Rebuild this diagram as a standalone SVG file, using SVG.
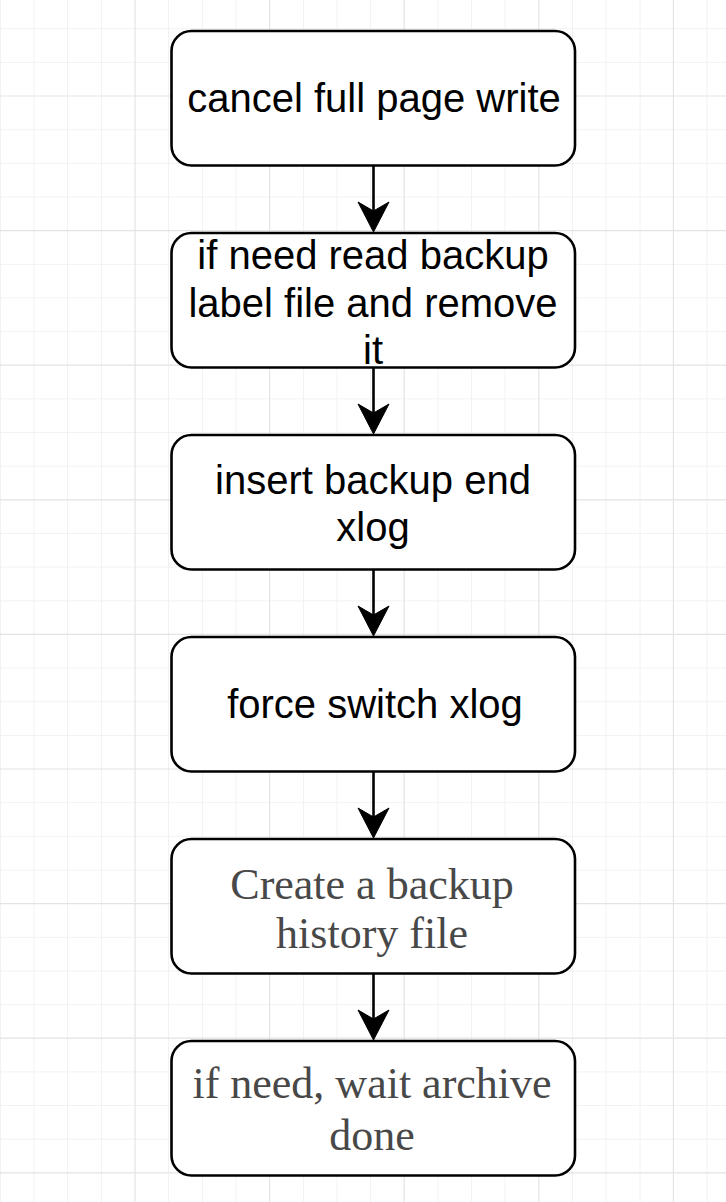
<svg xmlns="http://www.w3.org/2000/svg" width="726" height="1202" viewBox="0 0 726 1202">
<style>
.minor{stroke:#f2f2f2;stroke-width:1;fill:none}
.major{stroke:#e4e4e4;stroke-width:1.2;fill:none}
.box{fill:#ffffff;stroke:#000000;stroke-width:2.6}
.sans{font-family:"Liberation Sans",Arial,sans-serif;font-size:40px;fill:#000000;text-anchor:middle}
.serif{font-family:"Liberation Serif","Times New Roman",serif;font-size:44px;fill:#484848;text-anchor:middle}
.edge{stroke:#000000;stroke-width:2.6;fill:none}
.head{fill:#000000;stroke:#000000;stroke-width:1}
</style>
<rect width="726" height="1202" fill="#ffffff"/>
<g id="grid">
<path class="minor" d="M0.5 0V1202M34 0V1202M67.5 0V1202M101.5 0V1202M168.5 0V1202M202.5 0V1202M236 0V1202M303.5 0V1202M337 0V1202M370.5 0V1202M438 0V1202M471.5 0V1202M505 0V1202M572.5 0V1202M606 0V1202M640 0V1202M707 0V1202M0 28.7H726M0 62.4H726M0 129.7H726M0 163.3H726M0 197H726M0 264.3H726M0 297.9H726M0 331.6H726M0 398.9H726M0 432.5H726M0 466.2H726M0 533.5H726M0 567.1H726M0 600.8H726M0 668H726M0 701.7H726M0 735.4H726M0 802.7H726M0 836.3H726M0 870H726M0 937.3H726M0 970.9H726M0 1004.6H726M0 1071.9H726M0 1105.5H726M0 1139.2H726"/>
<path class="major" d="M135 0V1202M269.6 0V1202M404.2 0V1202M538.8 0V1202M673.4 0V1202M0 96H726M0 230.6H726M0 365.2H726M0 499.8H726M0 634.4H726M0 769H726M0 903.6H726M0 1038.2H726M0 1172.8H726"/>
</g>
<g id="connectors">
<path class="edge" d="M373.5 165.5V214"/>
<path class="head" d="M373.5 232L358 202L373.5 211L389 202Z"/>
<path class="edge" d="M373.5 367.5V416"/>
<path class="head" d="M373.5 434L358 404L373.5 413L389 404Z"/>
<path class="edge" d="M373.5 569.5V618"/>
<path class="head" d="M373.5 636L358 606L373.5 615L389 606Z"/>
<path class="edge" d="M373.5 771.5V820"/>
<path class="head" d="M373.5 838L358 808L373.5 817L389 808Z"/>
<path class="edge" d="M373.5 973.5V1022"/>
<path class="head" d="M373.5 1040L358 1010L373.5 1019L389 1010Z"/>
</g>
<g id="node1">
<rect class="box" x="171.5" y="31" width="403.5" height="134.5" rx="20" ry="20"/>
<text class="sans" x="374" y="112">cancel full page write</text>
</g>
<g id="node2">
<rect class="box" x="171.5" y="233" width="403.5" height="134.5" rx="20" ry="20"/>
<text class="sans" x="373" y="268.5">if need read backup</text>
<text class="sans" x="373" y="316.5">label file and remove</text>
<text class="sans" x="373" y="363.5">it</text>
</g>
<g id="node3">
<rect class="box" x="171.5" y="435" width="403.5" height="134.5" rx="20" ry="20"/>
<text class="sans" x="373" y="493.5">insert backup end</text>
<text class="sans" x="373" y="540.5">xlog</text>
</g>
<g id="node4">
<rect class="box" x="171.5" y="637" width="403.5" height="134.5" rx="20" ry="20"/>
<text class="sans" x="375" y="717.5">force switch xlog</text>
</g>
<g id="node5">
<rect class="box" x="171.5" y="839" width="403.5" height="134.5" rx="20" ry="20"/>
<text class="serif" x="372" y="899">Create a backup</text>
<text class="serif" x="372" y="948">history file</text>
</g>
<g id="node6">
<rect class="box" x="171.5" y="1041" width="403.5" height="134.5" rx="20" ry="20"/>
<text class="serif" x="372" y="1098">if need, wait archive</text>
<text class="serif" x="372" y="1150">done</text>
</g>
</svg>
